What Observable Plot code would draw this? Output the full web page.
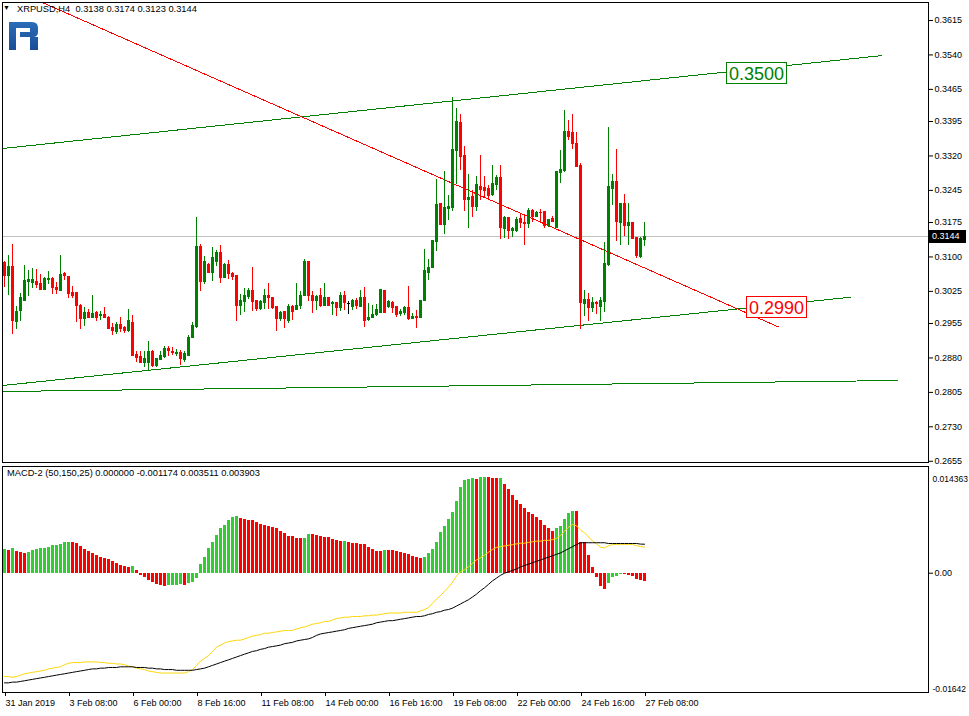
<!DOCTYPE html>
<html><head><meta charset="utf-8">
<script src="https://cdn.jsdelivr.net/npm/d3@7"></script>
<script src="https://cdn.jsdelivr.net/npm/@observablehq/plot@0.6"></script>
<style>
body{margin:0;background:#fff;font-family:"Liberation Sans",Arial,sans-serif;}
#wrap{position:relative;width:969px;height:716px;overflow:hidden;background:#fff;}
#wrap svg{position:absolute;left:0;}
.ov{position:absolute;white-space:nowrap;font-family:"Liberation Sans",Arial,sans-serif;}
</style></head><body><div id="wrap"></div>
<script>
// ---- XRPUSD H4 candles (31 Jan 2019 16:00 .. 27 Feb 2019 08:00) ----
const openP=[0.3087,0.3058,0.3079,0.2958,0.2982,0.3004,0.3045,0.3043,0.3045,0.3040,0.3027,0.3049,0.3053,0.3033,0.3026,0.3063,0.3056,0.3021,0.3021,0.2994,0.2965,0.2979,0.2967,0.2977,0.2971,0.2973,0.2968,0.2945,0.2937,0.2951,0.2946,0.2938,0.2957,0.2886,0.2881,0.2870,0.2870,0.2894,0.2862,0.2876,0.2882,0.2899,0.2894,0.2888,0.2890,0.2875,0.2885,0.2923,0.2947,0.3121,0.3045,0.3083,0.3065,0.3090,0.3108,0.3054,0.3082,0.3063,0.3058,0.2993,0.3001,0.3012,0.3025,0.3003,0.2986,0.2999,0.3014,0.3010,0.2990,0.2964,0.2981,0.2960,0.2990,0.2984,0.2994,0.3014,0.3088,0.3016,0.3003,0.3014,0.2994,0.3010,0.2997,0.2999,0.2988,0.3016,0.2997,0.2992,0.3005,0.2990,0.3010,0.2962,0.2966,0.2973,0.2979,0.3025,0.2992,0.2999,0.2990,0.2975,0.2979,0.2988,0.2964,0.2970,0.2967,0.3003,0.3066,0.3076,0.3132,0.3216,0.3169,0.3204,0.3206,0.3331,0.3391,0.3319,0.3224,0.3230,0.3208,0.3253,0.3251,0.3247,0.3234,0.3256,0.3273,0.3161,0.3185,0.3156,0.3156,0.3182,0.3175,0.3172,0.3200,0.3187,0.3196,0.3198,0.3167,0.3182,0.3163,0.3283,0.3287,0.3373,0.3371,0.3347,0.3299,0.2997,0.3006,0.2989,0.2999,0.2991,0.3002,0.3082,0.3249,0.3264,0.3174,0.3216,0.3167,0.3174,0.3141,0.3100,0.3138];
const highP=[0.3089,0.3103,0.3128,0.2992,0.3020,0.3082,0.3071,0.3074,0.3073,0.3062,0.3055,0.3069,0.3055,0.3045,0.3103,0.3066,0.3058,0.3036,0.3022,0.2996,0.2989,0.2986,0.3017,0.2981,0.2981,0.2989,0.2970,0.2956,0.2958,0.2969,0.2949,0.2986,0.2973,0.2893,0.2893,0.2893,0.2916,0.2896,0.2878,0.2894,0.2904,0.2906,0.2903,0.2899,0.2896,0.2893,0.2929,0.2957,0.3185,0.3128,0.3100,0.3085,0.3121,0.3113,0.3125,0.3085,0.3092,0.3066,0.3059,0.3018,0.3032,0.3032,0.3077,0.3004,0.3005,0.3029,0.3042,0.3011,0.2991,0.2981,0.2982,0.2996,0.2994,0.3042,0.3025,0.3095,0.3090,0.3025,0.3016,0.3032,0.3042,0.3012,0.3003,0.3000,0.3023,0.3025,0.3003,0.3008,0.3010,0.3027,0.3034,0.2999,0.2994,0.2997,0.3028,0.3026,0.3005,0.3003,0.2991,0.2986,0.2992,0.3036,0.2977,0.2984,0.3006,0.3116,0.3095,0.3135,0.3269,0.3217,0.3286,0.3234,0.3448,0.3423,0.3410,0.3341,0.3280,0.3245,0.3275,0.3321,0.3275,0.3256,0.3299,0.3278,0.3299,0.3189,0.3186,0.3165,0.3187,0.3193,0.3193,0.3206,0.3204,0.3200,0.3204,0.3199,0.3181,0.3189,0.3287,0.3332,0.3419,0.3397,0.3410,0.3371,0.3304,0.3026,0.3021,0.3012,0.3004,0.3012,0.3132,0.3383,0.3280,0.3334,0.3217,0.3236,0.3217,0.3175,0.3142,0.3143,0.3174];
const lowP=[0.3033,0.3015,0.2932,0.2942,0.2960,0.3003,0.3014,0.3032,0.3031,0.3026,0.3026,0.3040,0.3018,0.3018,0.3024,0.3049,0.3010,0.3010,0.2958,0.2941,0.2949,0.2966,0.2965,0.2960,0.2962,0.2965,0.2941,0.2929,0.2931,0.2936,0.2933,0.2936,0.2883,0.2870,0.2867,0.2860,0.2851,0.2860,0.2860,0.2875,0.2878,0.2884,0.2886,0.2884,0.2863,0.2870,0.2883,0.2922,0.2945,0.3024,0.3041,0.3063,0.3046,0.3080,0.3043,0.3053,0.3050,0.3049,0.2960,0.2973,0.2979,0.3007,0.2981,0.2981,0.2984,0.2986,0.2986,0.2986,0.2938,0.2960,0.2945,0.2955,0.2962,0.2983,0.2986,0.3013,0.3002,0.2977,0.2984,0.2990,0.2992,0.2992,0.2973,0.2971,0.2981,0.2984,0.2975,0.2984,0.2986,0.2989,0.2947,0.2960,0.2965,0.2971,0.2977,0.2977,0.2988,0.2977,0.2968,0.2971,0.2973,0.2962,0.2963,0.2945,0.2967,0.3003,0.3048,0.3075,0.3111,0.3168,0.3149,0.3180,0.3200,0.3258,0.3288,0.3198,0.3161,0.3187,0.3200,0.3223,0.3230,0.3223,0.3232,0.3245,0.3139,0.3141,0.3137,0.3143,0.3154,0.3163,0.3126,0.3163,0.3176,0.3185,0.3176,0.3163,0.3165,0.3174,0.3161,0.3261,0.3285,0.3354,0.3334,0.3295,0.2941,0.2971,0.2960,0.2980,0.2975,0.2960,0.2980,0.3080,0.3213,0.3134,0.3124,0.3145,0.3124,0.3137,0.3097,0.3097,0.3123];
const closeP=[0.3058,0.3079,0.2960,0.2981,0.3010,0.3047,0.3050,0.3049,0.3039,0.3027,0.3053,0.3053,0.3032,0.3027,0.3060,0.3058,0.3019,0.3016,0.2993,0.2965,0.2979,0.2968,0.2975,0.2968,0.2973,0.2968,0.2943,0.2939,0.2951,0.2944,0.2939,0.2960,0.2885,0.2880,0.2869,0.2878,0.2894,0.2862,0.2877,0.2884,0.2899,0.2895,0.2891,0.2890,0.2878,0.2888,0.2923,0.2949,0.3121,0.3045,0.3088,0.3065,0.3097,0.3108,0.3055,0.3082,0.3063,0.3056,0.2993,0.3003,0.3016,0.3025,0.3001,0.2986,0.3001,0.3016,0.3010,0.2988,0.2964,0.2979,0.2964,0.2992,0.2981,0.2994,0.3016,0.3088,0.3014,0.3005,0.3012,0.2994,0.3010,0.2994,0.2999,0.2988,0.3016,0.2999,0.2997,0.3003,0.2994,0.3010,0.2960,0.2968,0.2973,0.2984,0.3027,0.2979,0.3001,0.2988,0.2973,0.2981,0.2988,0.2964,0.2970,0.2968,0.3005,0.3069,0.3077,0.3134,0.3214,0.3169,0.3206,0.3208,0.3332,0.3393,0.3317,0.3224,0.3228,0.3208,0.3256,0.3245,0.3243,0.3232,0.3258,0.3273,0.3163,0.3185,0.3156,0.3161,0.3180,0.3174,0.3172,0.3200,0.3187,0.3196,0.3195,0.3167,0.3180,0.3176,0.3285,0.3289,0.3373,0.3362,0.3345,0.3297,0.2999,0.3006,0.2989,0.2999,0.2997,0.3004,0.3084,0.3252,0.3264,0.3176,0.3216,0.3167,0.3174,0.3139,0.3102,0.3139,0.3144];

// ---- MACD-2 (50,150,25) ----
const histVals=[0.003188,0.003098,0.003278,0.002963,0.002784,0.002604,0.002829,0.003008,0.003188,0.003278,0.003368,0.003502,0.003682,0.003772,0.003817,0.004086,0.004176,0.004086,0.003951,0.003637,0.003188,0.002919,0.002649,0.002380,0.002155,0.001976,0.001841,0.001527,0.001302,0.001033,0.000898,0.000808,0.000853,0.000314,-0.000314,-0.000629,-0.001033,-0.001257,-0.001482,-0.001661,-0.001796,-0.001706,-0.001661,-0.001616,-0.001572,-0.001594,-0.001392,-0.001212,-0.000718,0.001167,0.002110,0.003278,0.004131,0.005074,0.005972,0.006466,0.007094,0.007453,0.007678,0.007364,0.007274,0.007139,0.007117,0.006870,0.006600,0.006466,0.006286,0.006196,0.006017,0.005568,0.005343,0.004984,0.004894,0.004715,0.004625,0.004634,0.005253,0.005208,0.005119,0.004939,0.004849,0.004827,0.004580,0.004445,0.004310,0.004319,0.004176,0.004041,0.004028,0.003906,0.003893,0.003502,0.003233,0.002963,0.002950,0.003098,0.003089,0.003080,0.002963,0.002829,0.002694,0.002559,0.002290,0.002155,0.002021,0.002155,0.002694,0.003233,0.004176,0.005523,0.006331,0.007274,0.008217,0.009698,0.011584,0.012527,0.012662,0.012752,0.012662,0.012931,0.012940,0.012922,0.012797,0.012788,0.012801,0.011988,0.011315,0.010507,0.009833,0.009294,0.008756,0.008217,0.007947,0.007543,0.007139,0.006466,0.006062,0.005657,0.006062,0.006331,0.007274,0.007992,0.008351,0.008342,0.004176,0.004086,0.002425,0.000808,-0.000629,-0.001841,-0.002245,-0.001437,-0.000629,-0.000494,-0.000225,-0.000238,-0.000251,-0.000494,-0.000898,-0.001033,-0.001174];
const macdVals=[-0.01391,-0.01391,-0.01401,-0.01391,-0.01372,-0.01354,-0.01344,-0.01335,-0.01325,-0.01316,-0.01307,-0.01288,-0.01278,-0.01269,-0.01260,-0.01231,-0.01213,-0.01203,-0.01203,-0.01203,-0.01194,-0.01194,-0.01194,-0.01194,-0.01203,-0.01203,-0.01213,-0.01213,-0.01222,-0.01222,-0.01231,-0.01250,-0.01260,-0.01278,-0.01288,-0.01297,-0.01316,-0.01325,-0.01335,-0.01344,-0.01344,-0.01344,-0.01344,-0.01344,-0.01344,-0.01344,-0.01325,-0.01297,-0.01241,-0.01184,-0.01147,-0.01109,-0.01053,-0.00996,-0.00968,-0.00940,-0.00921,-0.00912,-0.00902,-0.00902,-0.00884,-0.00865,-0.00846,-0.00837,-0.00827,-0.00808,-0.00808,-0.00799,-0.00790,-0.00780,-0.00771,-0.00771,-0.00771,-0.00752,-0.00733,-0.00724,-0.00705,-0.00686,-0.00677,-0.00667,-0.00649,-0.00649,-0.00630,-0.00611,-0.00602,-0.00592,-0.00592,-0.00583,-0.00583,-0.00583,-0.00573,-0.00573,-0.00564,-0.00564,-0.00555,-0.00545,-0.00536,-0.00536,-0.00536,-0.00536,-0.00526,-0.00526,-0.00526,-0.00526,-0.00508,-0.00489,-0.00461,-0.00404,-0.00348,-0.00301,-0.00244,-0.00188,-0.00122,-0.00038,0.00019,0.00047,0.00085,0.00132,0.00179,0.00207,0.00244,0.00282,0.00320,0.00348,0.00357,0.00367,0.00376,0.00385,0.00395,0.00404,0.00404,0.00414,0.00423,0.00432,0.00432,0.00442,0.00442,0.00451,0.00470,0.00508,0.00564,0.00620,0.00655,0.00639,0.00583,0.00545,0.00489,0.00432,0.00395,0.00350,0.00340,0.00370,0.00385,0.00388,0.00388,0.00388,0.00388,0.00388,0.00370,0.00360,0.003511];
const signalVals=[-0.01476,-0.01476,-0.01466,-0.01466,-0.01457,-0.01448,-0.01438,-0.01429,-0.01419,-0.01410,-0.01401,-0.01391,-0.01382,-0.01372,-0.01363,-0.01354,-0.01344,-0.01335,-0.01325,-0.01316,-0.01307,-0.01297,-0.01288,-0.01288,-0.01278,-0.01278,-0.01269,-0.01269,-0.01269,-0.01260,-0.01260,-0.01260,-0.01260,-0.01269,-0.01269,-0.01269,-0.01278,-0.01278,-0.01288,-0.01288,-0.01297,-0.01297,-0.01297,-0.01307,-0.01307,-0.01307,-0.01307,-0.01307,-0.01297,-0.01288,-0.01278,-0.01260,-0.01241,-0.01222,-0.01203,-0.01184,-0.01166,-0.01147,-0.01128,-0.01109,-0.01090,-0.01072,-0.01053,-0.01043,-0.01025,-0.01015,-0.00996,-0.00987,-0.00978,-0.00968,-0.00949,-0.00940,-0.00931,-0.00912,-0.00902,-0.00893,-0.00884,-0.00865,-0.00837,-0.00818,-0.00808,-0.00799,-0.00790,-0.00780,-0.00771,-0.00761,-0.00743,-0.00733,-0.00724,-0.00714,-0.00705,-0.00696,-0.00686,-0.00667,-0.00658,-0.00649,-0.00639,-0.00639,-0.00630,-0.00620,-0.00611,-0.00602,-0.00592,-0.00583,-0.00583,-0.00573,-0.00555,-0.00545,-0.00526,-0.00517,-0.00498,-0.00489,-0.00470,-0.00442,-0.00414,-0.00385,-0.00357,-0.00320,-0.00282,-0.00235,-0.00197,-0.00150,-0.00103,-0.00066,-0.00028,0.00000,0.00019,0.00038,0.00056,0.00085,0.00103,0.00122,0.00141,0.00160,0.00179,0.00197,0.00216,0.00235,0.00254,0.00273,0.00301,0.00329,0.00357,0.00385,0.00410,0.00410,0.00410,0.00410,0.00410,0.00410,0.00410,0.00400,0.00400,0.00400,0.00400,0.00400,0.00400,0.00400,0.00400,0.00392,0.003903];

// ---- axes ----
const priceTicks=[0.3615,0.3540,0.3465,0.3395,0.3320,0.3245,0.3175,0.3100,0.3025,0.2955,0.2880,0.2805,0.2730,0.2655];
const timeTickBars=[0,16,32,48,64,80,96,112,128,144,160];
const timeLabels=["31 Jan 2019","3 Feb 08:00","6 Feb 00:00","8 Feb 16:00","11 Feb 08:00","14 Feb 00:00","16 Feb 16:00","19 Feb 08:00","22 Feb 00:00","24 Feb 16:00","27 Feb 08:00"];
const priceRange=[0.26523,0.36542];
const macdRange=[-0.016058,0.014363];
const macdScaleLabels=["0.014363","0.00","-0.01642"];

// ---- drawn objects (bar index, price) ----
const trendNames=["channelTop","channelBottom","support","resistance"];
const trendBar1=[-0.5,-0.5,-0.5,9];
const trendPrice1=[0.33362,0.28200,0.28070,0.36560];
const trendBar2=[219.5,211.5,223.5,193.5];
const trendPrice2=[0.35388,0.30123,0.28309,0.29474];
const levelTexts=["0.3500","0.2990"];
const levelPrices=[0.3500,0.2990];
const levelBars=[180.5,185.5];

const GREEN="#008000", RED="#ff0000", HG="#32cd32";
const bars=openP.map((o,i)=>({i,o,h:highP[i],l:lowP[i],c:closeP[i]}));
const candleColor=d=>d.c>d.o?GREEN:d.c<d.o?RED:"#000000";
const hist=histVals.map((v,i)=>({i,v,up:i===0||v>=histVals[i-1]}));
const macdLine=macdVals.map((v,i)=>({i,v}));
const sigLine=signalVals.map((v,i)=>({i,v}));
const trends=trendNames.map((n,k)=>({n,x1:trendBar1[k],y1:trendPrice1[k],x2:trendBar2[k],y2:trendPrice2[k],col:n==="resistance"?RED:GREEN}));
const lastClose=closeP[closeP.length-1];
const font='"Liberation Sans", Arial, sans-serif';
const xDom=[-0.5,231];

const main=Plot.plot({
  width:969,height:463,marginLeft:2,marginRight:41,marginTop:2,marginBottom:1,
  style:{fontFamily:font,fontSize:"9px",color:"#000",background:"transparent",overflow:"visible"},
  x:{domain:xDom,axis:null},
  y:{domain:priceRange,axis:null},
  marks:[
    Plot.ruleY([lastClose],{stroke:"#c0c0c0",shapeRendering:"crispEdges"}),
    Plot.link(trends,{x1:"x1",y1:"y1",x2:"x2",y2:"y2",stroke:"col",strokeWidth:1,clip:true,shapeRendering:"crispEdges"}),
    Plot.ruleX(bars,{x:"i",y1:"l",y2:"h",stroke:candleColor,shapeRendering:"crispEdges"}),
    Plot.rect(bars,{x1:d=>d.i-0.375,x2:d=>d.i+0.375,y1:"o",y2:"c",fill:candleColor,insetTop:-0.5,insetBottom:-0.5,shapeRendering:"crispEdges"}),
    Plot.axisY({anchor:"right",ticks:priceTicks,tickFormat:d=>d.toFixed(4),tickSize:4,tickPadding:2,fontSize:9,label:null}),
    Plot.frame({stroke:"#000",shapeRendering:"crispEdges"})
  ]
});

const macd=Plot.plot({
  width:969,height:253,marginLeft:2,marginRight:41,marginTop:3,marginBottom:24,
  style:{fontFamily:font,fontSize:"9px",color:"#000",background:"transparent",overflow:"visible"},
  x:{domain:xDom,axis:null},
  y:{domain:macdRange,axis:null},
  marks:[
    Plot.rect(hist,{x1:d=>d.i-0.375,x2:d=>d.i+0.375,y1:0,y2:"v",fill:d=>d.up?HG:RED,shapeRendering:"crispEdges"}),
    Plot.line(macdLine,{x:"i",y:"v",stroke:"#ffd700",strokeWidth:1}),
    Plot.line(sigLine,{x:"i",y:"v",stroke:"#000",strokeWidth:1}),
    Plot.axisY({anchor:"right",ticks:[0],tickFormat:()=>macdScaleLabels[1],tickSize:4,tickPadding:2,fontSize:9,label:null}),
    Plot.text([macdScaleLabels[0]],{frameAnchor:"top-right",text:d=>d,textAnchor:"start",dx:4,dy:9,fontSize:8.5}),
    Plot.text([macdScaleLabels[2]],{frameAnchor:"bottom-right",text:d=>d,textAnchor:"start",dx:4,dy:-1,fontSize:8.5}),
    Plot.axisX({anchor:"bottom",ticks:timeTickBars,tickFormat:d=>timeLabels[timeTickBars.indexOf(d)],tickSize:4,tickPadding:3,textAnchor:"start",dx:1,fontSize:9,label:null}),
    Plot.frame({stroke:"#000",shapeRendering:"crispEdges"})
  ]
});

const wrap=document.getElementById("wrap");
main.style.top="0px"; macd.style.top="463px";
wrap.appendChild(main); wrap.appendChild(macd);

const xs=main.scale("x"), ys=main.scale("y");
function ov(html,css){const d=document.createElement("div");d.className="ov";d.innerHTML=html;Object.assign(d.style,css);wrap.appendChild(d);return d;}

// header
const f4=v=>v.toFixed(4);
const li=openP.length-1;
ov("&#9660;",{left:"3px",top:"4px",fontSize:"7px",color:"#000"});
ov(`XRPUSD,H4&nbsp; ${f4(openP[li])} ${f4(highP[li])} ${f4(lowP[li])} ${f4(closeP[li])}`,{left:"17px",top:"4px",fontSize:"9.3px",color:"#000"});
const hl=histVals.length-1, upLast=histVals[hl]>=histVals[hl-1];
ov(`MACD-2 (50,150,25) ${(upLast?histVals[hl]:0).toFixed(6)} ${(upLast?0:histVals[hl]).toFixed(6)} ${macdVals[hl].toFixed(6)} ${signalVals[hl].toFixed(6)}`,{left:"7px",top:"468px",fontSize:"9.3px",color:"#000"});

// current price tag
const yc=ys.apply(lastClose);
ov(f4(lastClose),{left:"928px",top:(yc-6.5)+"px",height:"13px",lineHeight:"13px",width:"38px",background:"#000",color:"#fff",fontSize:"9px",paddingLeft:"4px",boxSizing:"border-box"});

// level labels
levelTexts.forEach((t,k)=>{
  const col=k===0?GREEN:RED;
  ov(t,{left:xs.apply(levelBars[k])+"px",top:(ys.apply(levelPrices[k])-11)+"px",height:"22px",lineHeight:"22px",fontSize:"18px",color:col,background:"#fff",border:"1px solid "+col,padding:"0 2px",boxSizing:"border-box"});
});

// logo
ov(`<svg width="32" height="30" viewBox="0 0 32 30"><defs><linearGradient id="lg" x1="0" y1="0" x2="0" y2="1"><stop offset="0" stop-color="#2b6cb8"/><stop offset="1" stop-color="#1a4e96"/></linearGradient></defs>
<path fill="url(#lg)" d="M1,1 H24 Q30,1 30,7 V11 Q30,16 25,16 H12 V11 H22 V7 H8 V29 H1 Z M22,16 H30 V29 H22 Z"/></svg>`,{left:"8px",top:"21px"});
</script></body></html>
